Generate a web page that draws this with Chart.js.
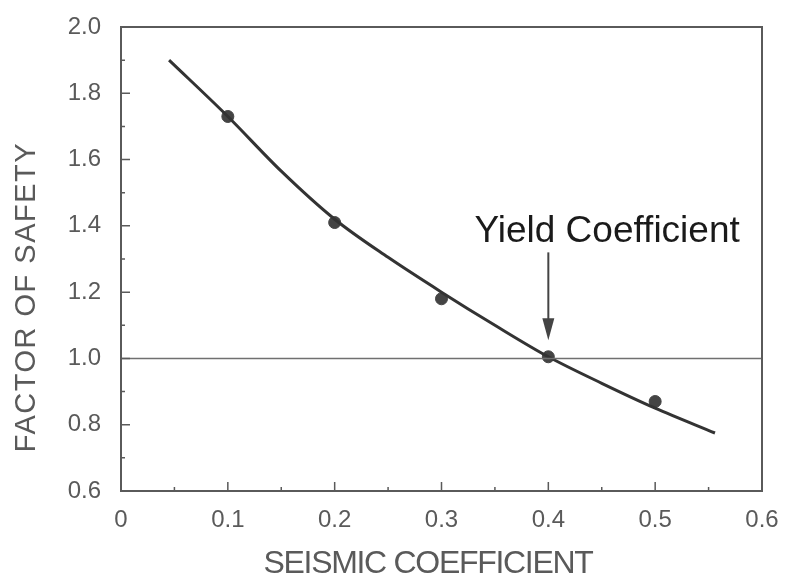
<!DOCTYPE html>
<html>
<head>
<meta charset="utf-8">
<script src="https://cdn.jsdelivr.net/npm/chart.js@4"></script>
<style>
  body { margin: 0; background: #fff; }
  #wrap { width: 788px; height: 580px; }
</style>
</head>
<body>
<div id="wrap"><canvas id="fsChart" width="788" height="580"></canvas></div>
<script>
// measured points
const pointX = [0.1, 0.2, 0.3, 0.4, 0.5];
const pointY = [1.73, 1.41, 1.18, 1.005, 0.87];

// fitted curve
const curveX = [0.045, 0.1, 0.15, 0.2, 0.25, 0.3, 0.35, 0.4, 0.45, 0.5, 0.556];
const curveY = [1.90, 1.73, 1.565, 1.42, 1.305, 1.20, 1.10, 1.005, 0.925, 0.85, 0.775];

// FS = 1 reference line
const refX = [0, 0.6];
const refY = [1.0, 1.0];

const xTicks = [0, 0.1, 0.2, 0.3, 0.4, 0.5, 0.6];
const yTicks = [0.6, 0.8, 1.0, 1.2, 1.4, 1.6, 1.8, 2.0];

const yieldLabel = 'Yield Coefficient';
const yieldX = 0.4;
const xTitle = 'SEISMIC COEFFICIENT';
const yTitle = 'FACTOR OF SAFETY';

const axisColor = '#5a5a5a';

const toXY = (xs, ys) => xs.map((x, i) => ({ x: x, y: ys[i] }));

// frame, inward ticks, arrow, labels
const decorations = {
  id: 'decorations',
  afterDraw(chart) {
    const ctx = chart.ctx;
    const a = chart.chartArea;
    const xs = chart.scales.x;
    const ys = chart.scales.y;
    ctx.save();
    ctx.strokeStyle = axisColor;
    ctx.lineWidth = 2;
    ctx.strokeRect(a.left, a.top, a.right - a.left, a.bottom - a.top);

    ctx.lineWidth = 1.5;
    ctx.beginPath();
    for (let v = 0.05; v < 0.6; v += 0.05) {
      const px = xs.getPixelForValue(v);
      const major = Math.abs(v * 10 - Math.round(v * 10)) < 0.01;
      ctx.moveTo(px, a.bottom);
      ctx.lineTo(px, a.bottom - (major ? 9 : 4));
    }
    for (let v = 0.7; v < 2.0; v += 0.1) {
      const py = ys.getPixelForValue(v);
      const major = Math.round(v * 10) % 2 === 0;
      ctx.moveTo(a.left, py);
      ctx.lineTo(a.left + (major ? 9 : 4), py);
    }
    ctx.stroke();

    // arrow to yield point
    const ax = xs.getPixelForValue(yieldX);
    const y0 = ys.getPixelForValue(1.32);
    const y1 = ys.getPixelForValue(1.055);
    ctx.strokeStyle = '#444';
    ctx.fillStyle = '#444';
    ctx.lineWidth = 2;
    ctx.beginPath();
    ctx.moveTo(ax, y0);
    ctx.lineTo(ax, y1 - 20);
    ctx.stroke();
    ctx.beginPath();
    ctx.moveTo(ax - 6, y1 - 22);
    ctx.lineTo(ax + 6, y1 - 22);
    ctx.lineTo(ax, y1);
    ctx.closePath();
    ctx.fill();

    ctx.fillStyle = '#1a1a1a';
    ctx.font = '37px "Liberation Sans", Arial, sans-serif';
    ctx.textAlign = 'center';
    ctx.textBaseline = 'alphabetic';
    ctx.fillText(yieldLabel, xs.getPixelForValue(0.455), ys.getPixelForValue(1.352));

    // axis titles
    ctx.fillStyle = axisColor;
    ctx.textBaseline = 'middle';
    ctx.font = '32px "Liberation Sans", Arial, sans-serif';
    ctx.letterSpacing = '-1.3px';
    ctx.fillText(xTitle, 428, 564);
    ctx.save();
    ctx.translate(27, 297);
    ctx.rotate(-Math.PI / 2);
    ctx.font = '29px "Liberation Sans", Arial, sans-serif';
    ctx.letterSpacing = '1.5px';
    ctx.fillText(yTitle, 0, 0);
    ctx.restore();
    ctx.restore();
  }
};

const noPad = (s) => {
  s.paddingTop = 0;
  s.paddingBottom = 0;
  s.paddingLeft = 0;
  s.paddingRight = 0;
};

new Chart(document.getElementById('fsChart').getContext('2d'), {
  type: 'scatter',
  data: {
    datasets: [
      {
        type: 'line',
        data: toXY(refX, refY),
        borderColor: '#707070',
        borderWidth: 1.5,
        pointRadius: 0
      },
      {
        type: 'line',
        data: toXY(curveX, curveY),
        borderColor: '#333',
        borderWidth: 3,
        pointRadius: 0,
        cubicInterpolationMode: 'monotone'
      },
      {
        data: toXY(pointX, pointY),
        backgroundColor: '#444',
        borderColor: '#444',
        pointRadius: 6
      }
    ]
  },
  options: {
    responsive: false,
    animation: false,
    layout: { padding: { top: 27, right: 26, left: 0, bottom: 0 } },
    plugins: {
      legend: { display: false },
      tooltip: { enabled: false }
    },
    scales: {
      x: {
        type: 'linear',
        min: 0,
        max: 0.6,
        afterBuildTicks: (s) => { s.ticks = xTicks.map(v => ({ value: v })); },
        afterFit: (s) => { s.height = 89; noPad(s); },
        grid: { display: false, drawTicks: false },
        border: { display: false },
        ticks: {
          padding: 15,
          color: axisColor,
          font: { family: '"Liberation Sans", Arial, sans-serif', size: 24 },
          callback: (v) => v === 0 ? '0' : v.toFixed(1)
        }
      },
      y: {
        type: 'linear',
        min: 0.6,
        max: 2.0,
        afterBuildTicks: (s) => { s.ticks = yTicks.map(v => ({ value: v })); },
        afterFit: (s) => { s.width = 121; noPad(s); },
        grid: { display: false, drawTicks: false },
        border: { display: false },
        ticks: {
          padding: 20,
          color: axisColor,
          font: { family: '"Liberation Sans", Arial, sans-serif', size: 24 },
          callback: (v) => v.toFixed(1)
        }
      }
    }
  },
  plugins: [decorations]
});
</script>
</body>
</html>
